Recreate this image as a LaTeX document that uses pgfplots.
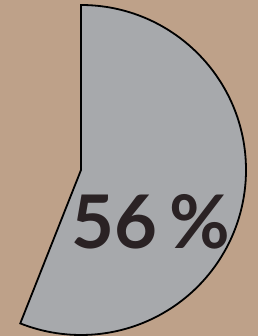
\documentclass[border=0pt]{standalone}
\usepackage{pgfplots}
\pgfplotsset{compat=1.18}
\usepackage{pgfplotstable}
\usepackage{fontspec}
\setmainfont{Lato}
\definecolor{bg}{HTML}{BEA189}
\definecolor{slice}{HTML}{A7A9AC}
\definecolor{txt}{HTML}{2A2224}
\pgfplotstableread{
label value
share 56
}\datatable
\pgfplotstablegetelem{0}{value}\of\datatable
\let\pct\pgfplotsretval
\begin{document}
\begin{tikzpicture}
\begin{axis}[scale only axis, width=258pt, height=336pt,
  xmin=0, xmax=258, ymin=0, ymax=336, hide axis, clip=true]
\fill[bg] (rel axis cs:0,0) rectangle (rel axis cs:1,1);
\filldraw[fill=slice, draw=black, line width=1.8pt, line join=miter]
  (axis cs:81,166) -- (axis cs:81,331)
  arc[start angle=90, end angle={90-3.6*\pct}, radius=165pt] -- cycle;
\node[font=\bfseries\fontsize{74}{74}\selectfont, text=txt, inner sep=0pt]
  at (axis cs:151,114) {\pct\,\%};
\end{axis}
\end{tikzpicture}
\end{document}
